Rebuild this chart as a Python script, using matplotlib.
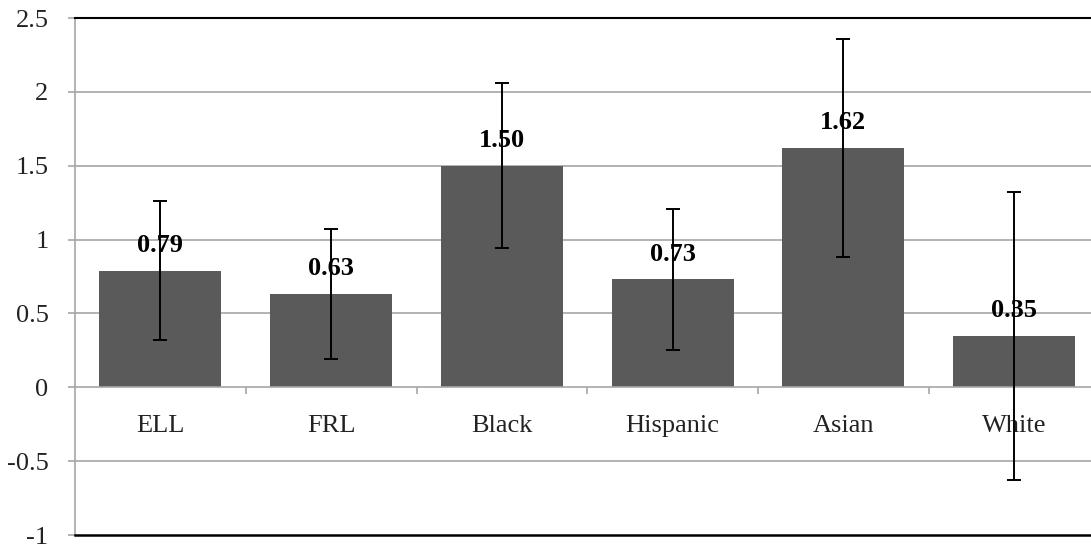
import numpy as np
import matplotlib
matplotlib.use('Agg')
import matplotlib.pyplot as plt

categories = ['ELL', 'FRL', 'Black', 'Hispanic', 'Asian', 'White']
values = [0.79, 0.63, 1.50, 0.73, 1.62, 0.35]
errors = [0.47, 0.44, 0.56, 0.475, 0.74, 0.975]
value_labels = ['0.79', '0.63', '1.50', '0.73', '1.62', '0.35']
y_ticks = [-1, -0.5, 0, 0.5, 1, 1.5, 2, 2.5]
y_tick_labels = ['-1', '-0.5', '0', '0.5', '1', '1.5', '2', '2.5']

plt.rcParams['font.family'] = ['Liberation Serif', 'DejaVu Serif']

W, H = 1091, 546
fig = plt.figure(figsize=(W / 100, H / 100), dpi=100)
left, right, top, bottom = 75, 1099.5, 18, 535
ax = fig.add_axes([left / W, (H - bottom) / H, (right - left) / W, (bottom - top) / H])

grid_color = '#a6a6a6'
x = np.arange(len(categories))

ax.bar(x, values, width=0.714, color='#5a5a5a', zorder=2)
ax.errorbar(x, values, yerr=errors, fmt='none', ecolor='black',
            elinewidth=1.4, capsize=4.7, capthick=1.4, zorder=3)

for xi, v, lab in zip(x, values, value_labels):
    ax.annotate(lab, (xi, v), xytext=(0, 10), textcoords='offset points',
                ha='center', va='bottom', fontsize=19, fontweight='bold', zorder=4)

ax.set_xlim(-0.5, len(categories) - 0.5)
ax.set_ylim(-1, 2.5)
ax.set_yticks(y_ticks)
ax.set_yticklabels(y_tick_labels, fontsize=19, color='#222222')
for yv in y_ticks:
    if yv not in (0, -1, 2.5):
        ax.axhline(yv, color=grid_color, linewidth=1.2, zorder=1)

# category axis crosses at zero
ax.spines['bottom'].set_position(('data', 0))
ax.spines['bottom'].set_color(grid_color)
ax.spines['bottom'].set_linewidth(1.2)
ax.spines['left'].set_color(grid_color)
ax.spines['left'].set_linewidth(1.2)
ax.spines['top'].set_color('black')
ax.spines['top'].set_linewidth(1.5)
ax.spines['right'].set_color('black')
ax.axhline(-1, color='black', linewidth=1.8, clip_on=False, zorder=5)

ax.set_xticks(x)
ax.set_xticklabels(categories, fontsize=19, color='#222222')
ax.set_xticks(x[:-1] + 0.5, minor=True)
ax.tick_params(axis='x', which='major', length=0, pad=20)
ax.tick_params(axis='x', which='minor', length=5, color=grid_color, width=1.2)
ax.tick_params(axis='y', length=5, color=grid_color, width=1.2, pad=14)

fig.savefig('out.png', dpi=100)
